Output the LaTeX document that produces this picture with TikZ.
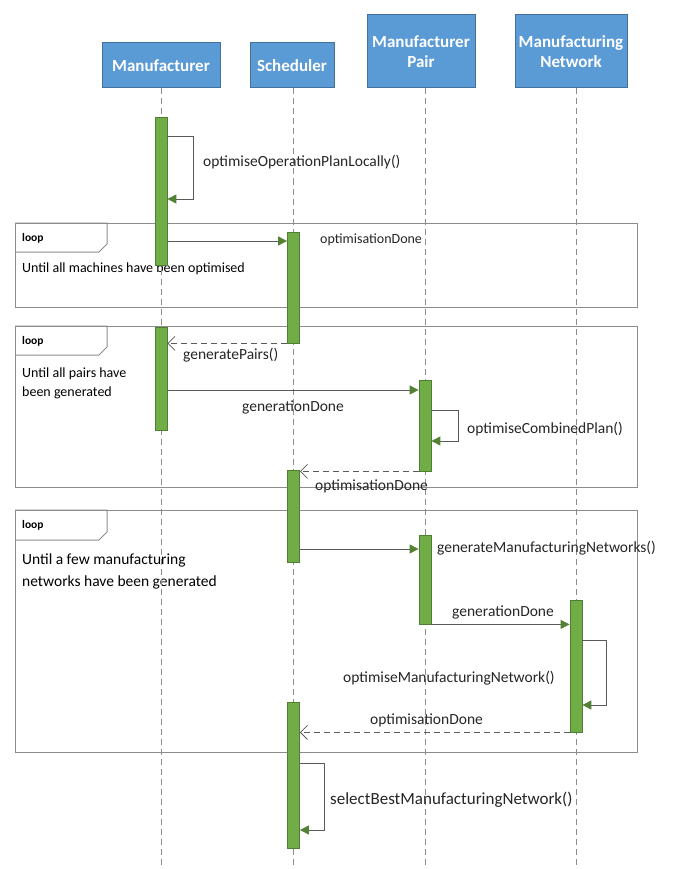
\documentclass[tikz,border=0pt]{standalone}
\usepackage{fontspec}
\setmainfont{Carlito}
\usetikzlibrary{arrows.meta}
\definecolor{hdrfill}{HTML}{5B9BD5}
\definecolor{hdrline}{HTML}{41719C}
\definecolor{actfill}{HTML}{70AD47}
\definecolor{actline}{HTML}{507E32}
\definecolor{msgline}{HTML}{5A5A5A}
\definecolor{tipgreen}{HTML}{548235}
\definecolor{framegray}{HTML}{8C8C8C}
\begin{document}
\begin{tikzpicture}[x=1pt,y=-1pt,
  hdr/.style={draw=hdrline, line width=1pt, fill=hdrfill, text=white, font=\fontsize{17}{20}\selectfont\bfseries, align=center, inner sep=0pt},
  act/.style={draw=actline, line width=0.8pt, fill=actfill, minimum width=12pt, inner sep=0pt},
  life/.style={draw=framegray, dash pattern=on 6pt off 4pt, line width=0.9pt},
  frame/.style={draw=framegray, line width=1pt},
  msg/.style={draw=msgline, line width=1pt, -{Triangle[length=9pt,width=9pt,fill=tipgreen,color=tipgreen]}},
  ret/.style={draw=msgline, line width=1pt, dash pattern=on 6pt off 4pt, -{Straight Barb[length=7pt,width=14pt,line width=0.8pt]}},
  lbl/.style={font=\fontsize{15.5}{18}\selectfont, text=black!85, inner sep=0pt, anchor=west},
  smalllbl/.style={lbl, font=\fontsize{14}{17}\selectfont},
  cond/.style={font=\fontsize{14}{19}\selectfont, text=black, inner sep=0pt, anchor=north west, align=left},
  tag/.style={font=\fontsize{11.5}{13}\selectfont\bfseries, inner sep=0pt, anchor=west}
]
\useasboundingbox[fill=white] (0,0) rectangle (672,869);

% loop frames
\draw[frame] (15,223) rectangle (637,307);
\draw[frame] (15,223) -- (107,223) -- (107,244) -- (99,252) -- (15,252);
\node[tag] (t1) at (22,238) {loop};
\node[cond] (c1) at (22,263) {Until all machines have been optimised};

\draw[frame] (15,326) rectangle (637,487);
\draw[frame] (15,326) -- (107,326) -- (107,347) -- (99,355) -- (15,355);
\node[tag] (t2) at (22,341) {loop};
\node[cond] (c2) at (22,368) {Until all pairs have\\been generated};

\draw[frame] (15,510) rectangle (637,752);
\draw[frame] (15,510) -- (107,510) -- (107,532) -- (99,540) -- (15,540);
\node[tag] (t3) at (22,525) {loop};
\node[cond, font=\fontsize{15.5}{22}\selectfont] (c3) at (22,554) {Until a few manufacturing\\networks have been generated};

% headers
\node[hdr, minimum width=118pt, minimum height=45pt] (hM) at (161,65.5) {Manufacturer};
\node[hdr, minimum width=84pt, minimum height=45pt] (hS) at (292,65.5) {Scheduler};
\node[hdr, minimum width=108pt, minimum height=73pt] (hP) at (421,51.5) {Manufacturer\\Pair};
\node[hdr, minimum width=112pt, minimum height=73pt] (hN) at (571,51.5) {Manufacturing\\Network};

% lifelines
\coordinate (eM) at (161,869);
\coordinate (eS) at (293.5,869);
\coordinate (eP) at (425,869);
\coordinate (eN) at (576,869);
\draw[life] (hM.south -| eM) -- (eM);
\draw[life] (hS.south -| eS) -- (eS);
\draw[life] (hP.south -| eP) -- (eP);
\draw[life] (hN.south -| eN) -- (eN);

% activation bars
\node[act, minimum height=148pt] (m1) at (161,191) {};
\node[act, minimum height=111pt] (s1) at (293.5,287.5) {};
\node[act, minimum height=103pt] (m2) at (161,378.5) {};
\node[act, minimum height=91pt] (p1) at (425,425.5) {};
\node[act, minimum height=92pt] (s2) at (293.5,516) {};
\node[act, minimum height=89pt] (p2) at (425,579.5) {};
\node[act, minimum height=132pt] (n1) at (576,666) {};
\node[act, minimum height=146pt] (s3) at (293.5,775) {};

% messages
\draw[msg] (m1.east |- 0,137) -- ++(26,0) |- (m1.east |- 0,199);
\node[lbl] (l1) at (203,162) {optimiseOperationPlanLocally()};

\draw[msg] (m1.east |- 0,241) -- (s1.west |- 0,241);
\node[smalllbl] (l2) at (320,240) {optimisationDone};

\draw[ret] (s1.south west) -- (m2.east |- s1.south west);
\node[lbl] (l3) at (183,355) {generatePairs()};

\draw[msg] (m2.east |- 0,390) -- (p1.west |- 0,390);
\node[lbl, anchor=center] (l4) at (293,407) {generationDone};

\draw[msg] (p1.east |- 0,410) -- ++(27,0) |- (p1.east |- 0,441);
\node[lbl] (l5) at (467,429) {optimiseCombinedPlan()};

\draw[ret] (p1.south west) -- (s2.east |- p1.south west);
\node[lbl] (l6) at (315,486) {optimisationDone};

\draw[msg] (s2.east |- 0,549) -- (p2.west |- 0,549);
\node[lbl] (l7) at (437,548) {generateManufacturingNetworks()};

\draw[msg] (p2.south east) -- (n1.west |- p2.south east);
\node[lbl, anchor=center] (l8) at (503,612) {generationDone};

\draw[msg] (n1.east |- 0,640) -- ++(24,0) |- (n1.east |- 0,705);
\node[lbl] (l9) at (343,678) {optimiseManufacturingNetwork()};

\draw[ret] (n1.south west) -- (s3.east |- n1.south west);
\node[lbl] (l10) at (370,720) {optimisationDone};

\draw[msg] (s3.east |- 0,763) -- ++(25,0) |- (s3.east |- 0,830);
\node[lbl, font=\fontsize{17}{20}\selectfont] (l11) at (330,800) {selectBestManufacturingNetwork()};
\end{tikzpicture}
\end{document}
